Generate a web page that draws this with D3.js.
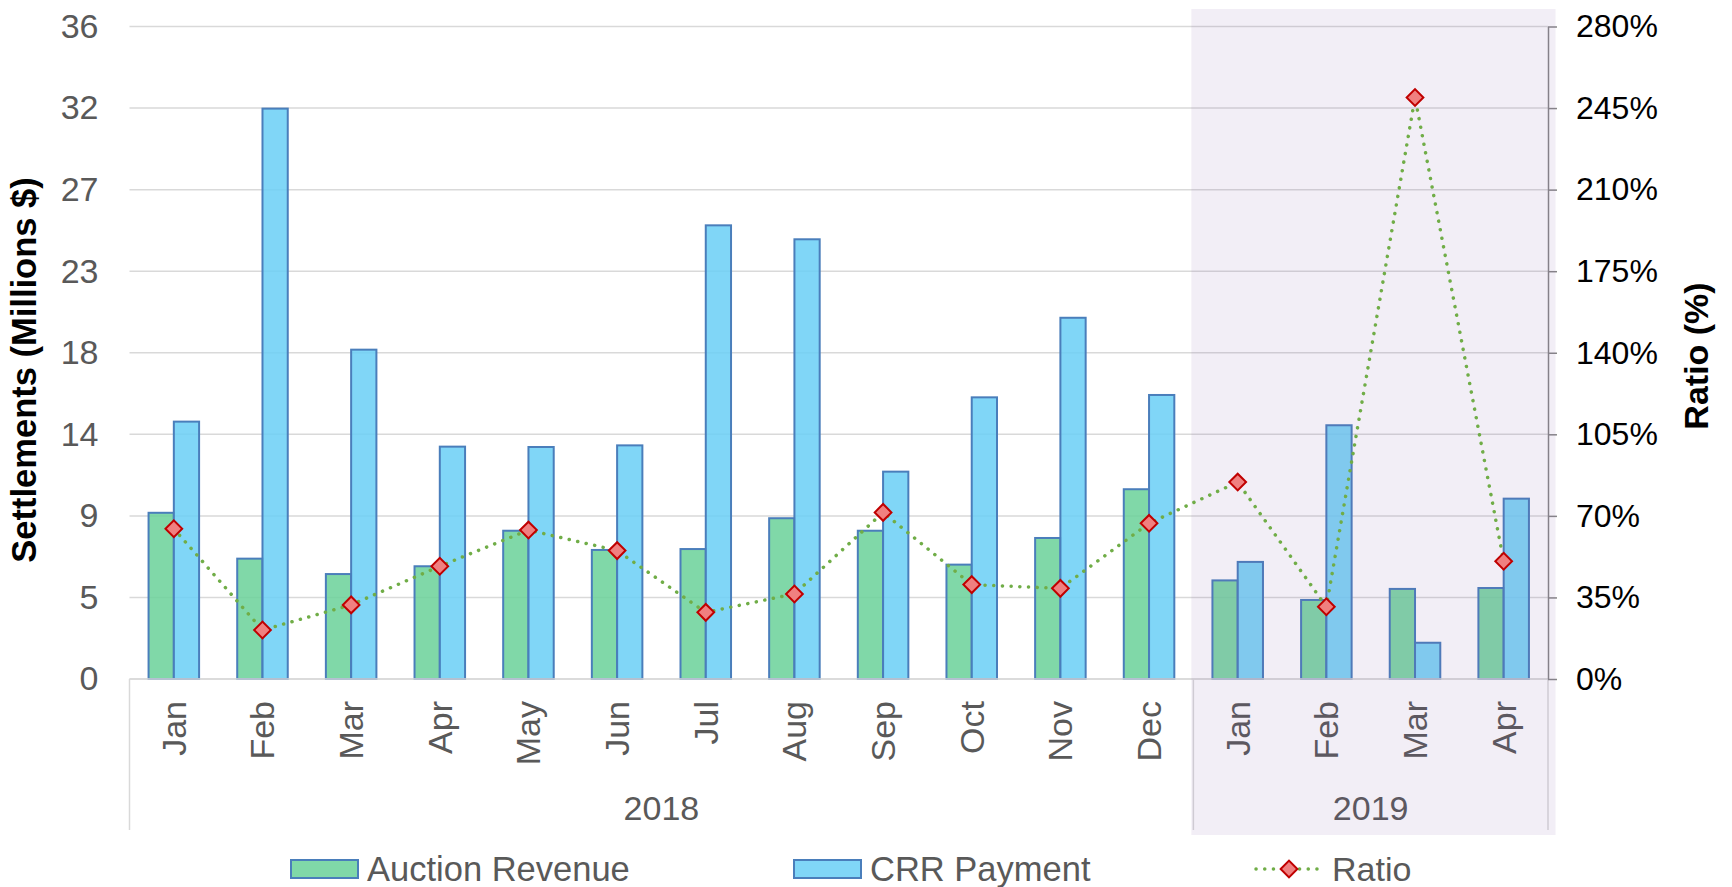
<!DOCTYPE html>
<html>
<head>
<meta charset="utf-8">
<script src="https://cdn.jsdelivr.net/npm/d3@7"></script>
<style>
  body { margin: 0; background: #fff; }
  svg { font-family: "Liberation Sans", Arial, sans-serif; }
</style>
</head>
<body>
<div id="main"></div>
<script>
// values
const months = ["Jan", "Feb", "Mar", "Apr", "May", "Jun", "Jul", "Aug", "Sep", "Oct", "Nov", "Dec", "Jan", "Feb", "Mar", "Apr"]
const years = ["2018", "2018", "2018", "2018", "2018", "2018", "2018", "2018", "2018", "2018", "2018", "2018", "2019", "2019", "2019", "2019"]
const auctionRevenue = [9.17, 6.64, 5.79, 6.22, 8.18, 7.12, 7.17, 8.87, 8.18, 6.31, 7.78, 10.47, 5.44, 4.36, 4.97, 5.02]
const crrPayment = [14.2, 31.47, 18.17, 12.82, 12.8, 12.89, 25.03, 24.26, 11.44, 15.54, 19.93, 15.67, 6.46, 14.0, 2.0, 9.95]
const ratio = [64.5, 21.0, 31.8, 48.4, 63.9, 55.1, 28.6, 36.5, 71.5, 40.5, 38.9, 66.8, 84.5, 31.0, 249.5, 50.5]

const leftTicks = [0, 4.5, 9, 13.5, 18, 22.5, 27, 31.5, 36]
const leftTickLabels = ["0", "5", "9", "14", "18", "23", "27", "32", "36"]
const rightTicks = [0, 35, 70, 105, 140, 175, 210, 245, 280]

const shadedYear = "2019"

let width = 1732,
    height = 887

const keys = months.map((m, i) => years[i] + "-" + m)
const rows = keys.map((k, i) => ({
    key: k, month: months[i], year: years[i],
    auction: auctionRevenue[i], crr: crrPayment[i], ratio: ratio[i]
}))

const plotLeft = 129.5, plotRight = 1548, plotTop = 26.5, plotBottom = 679

const x = d3.scaleBand().domain(keys).range([plotLeft, plotRight]).paddingInner(0.43).paddingOuter(0.215)
const xs = d3.scaleBand().domain(["auction", "crr"]).range([0, x.bandwidth()])
const y = d3.scaleLinear().domain([0, 36]).range([plotBottom, plotTop])
const yR = d3.scaleLinear().domain([0, 280]).range([plotBottom, plotTop])

const cx = k => x(k) + x.bandwidth() / 2

var svg = d3.select("div#main")
    .append("svg")
    .attr("width", width)
    .attr("height", height)

// gridlines
svg.append("g")
    .selectAll("line")
    .data(leftTicks)
    .join("line")
    .attr("x1", plotLeft)
    .attr("x2", plotRight)
    .attr("y1", d => y(d))
    .attr("y2", d => y(d))
    .attr("stroke", "#d9d9d9")
    .attr("stroke-width", 1.5)

// bars
const bars = svg.append("g")
bars.selectAll(".auction")
    .data(rows)
    .join("rect")
    .attr("class", "auction")
    .attr("x", d => x(d.key) + xs("auction"))
    .attr("width", xs.bandwidth())
    .attr("y", d => y(d.auction))
    .attr("height", d => y(0) - y(d.auction))
    .attr("fill", "#6ad199")
    .attr("fill-opacity", 0.85)
    .attr("stroke", "#4a7ebb")
    .attr("stroke-width", 2)

bars.selectAll(".crr")
    .data(rows)
    .join("rect")
    .attr("class", "crr")
    .attr("x", d => x(d.key) + xs("crr"))
    .attr("width", xs.bandwidth())
    .attr("y", d => y(d.crr))
    .attr("height", d => y(0) - y(d.crr))
    .attr("fill", "#6acff6")
    .attr("fill-opacity", 0.85)
    .attr("stroke", "#4a7ebb")
    .attr("stroke-width", 2)

// category axis
svg.append("line")
    .attr("x1", plotLeft).attr("x2", plotRight)
    .attr("y1", plotBottom).attr("y2", plotBottom)
    .attr("stroke", "#d9d9d9")
    .attr("stroke-width", 1.5)

svg.append("g")
    .selectAll("text")
    .data(rows)
    .join("text")
    .attr("transform", d => "translate(" + cx(d.key) + "," + 701 + ") rotate(-90)")
    .attr("dy", "0.35em")
    .attr("text-anchor", "end")
    .attr("font-size", 34)
    .attr("fill", "#595959")
    .text(d => d.month)

const yearGroups = Array.from(d3.group(rows, d => d.year), ([yr, rs]) => ({
    year: yr,
    x0: x(rs[0].key) - x.step() * x.paddingInner() / 2,
    x1: x(rs[rs.length - 1].key) + x.bandwidth() + x.step() * x.paddingInner() / 2
}))
yearGroups[0].x0 = plotLeft
yearGroups[yearGroups.length - 1].x1 = plotRight

const sepX = [plotLeft].concat(yearGroups.map(g => g.x1))
svg.append("g")
    .selectAll("line")
    .data(sepX)
    .join("line")
    .attr("x1", d => d).attr("x2", d => d)
    .attr("y1", plotBottom).attr("y2", 830)
    .attr("stroke", "#d9d9d9")
    .attr("stroke-width", 1.5)

svg.append("g")
    .selectAll("text")
    .data(yearGroups)
    .join("text")
    .attr("x", d => (d.x0 + d.x1) / 2)
    .attr("y", 820)
    .attr("text-anchor", "middle")
    .attr("font-size", 34)
    .attr("fill", "#595959")
    .text(d => d.year)

// left axis labels
svg.append("g")
    .attr("transform", "translate(" + plotLeft + ",0)")
    .call(d3.axisLeft(y).tickValues(leftTicks).tickFormat((d, i) => leftTickLabels[i]).tickSize(0).tickPadding(31))
    .call(g => g.select(".domain").remove())
    .call(g => g.selectAll("text").attr("font-size", 34).attr("fill", "#595959"))
    .attr("font-family", null)

// right axis
svg.append("g")
    .attr("transform", "translate(" + plotRight + ",0)")
    .call(d3.axisRight(yR).tickValues(rightTicks).tickFormat(d => d + "%").tickSize(9).tickSizeOuter(0).tickPadding(19))
    .call(g => g.select(".domain").attr("stroke", "#868686").attr("stroke-width", 1.5))
    .call(g => g.selectAll(".tick line").attr("stroke", "#868686").attr("stroke-width", 1.5))
    .call(g => g.selectAll("text").attr("font-size", 32).attr("fill", "#000"))
    .attr("font-family", null)

// shaded year overlay
const shade = yearGroups.find(g => g.year == shadedYear)
svg.append("rect")
    .attr("x", shade.x0 - 2)
    .attr("y", 9)
    .attr("width", plotRight + 7.5 - (shade.x0 - 2))
    .attr("height", 826)
    .attr("fill", "rgb(125,85,165)")
    .attr("fill-opacity", 0.1)

// ratio line
svg.append("path")
    .datum(rows)
    .attr("d", d3.line().x(d => cx(d.key)).y(d => yR(d.ratio)))
    .attr("fill", "none")
    .attr("stroke", "#70ad47")
    .attr("stroke-width", 3.5)
    .attr("stroke-linecap", "round")
    .attr("stroke-dasharray", "0.1 8.6")

const diamond = d3.symbol().type(d3.symbolSquare).size(140)

svg.append("g")
    .selectAll("path")
    .data(rows)
    .join("path")
    .attr("d", diamond)
    .attr("transform", d => "translate(" + cx(d.key) + "," + yR(d.ratio) + ") rotate(45)")
    .attr("fill", "#f08080")
    .attr("stroke", "#c00000")
    .attr("stroke-width", 2)

// axis titles
svg.append("text")
    .attr("transform", "translate(36,370) rotate(-90)")
    .attr("text-anchor", "middle")
    .attr("font-size", 34.5)
    .attr("font-weight", "bold")
    .attr("fill", "#000")
    .text("Settlements (Millions $)")

svg.append("text")
    .attr("transform", "translate(1708,356) rotate(-90)")
    .attr("text-anchor", "middle")
    .attr("font-size", 34)
    .attr("font-weight", "bold")
    .attr("fill", "#000")
    .text("Ratio (%)")

// legend
const legend = svg.append("g")
const legendBars = [
    { name: "Auction Revenue", fill: "#6ad199", x: 291 },
    { name: "CRR Payment", fill: "#6acff6", x: 794 }
]
legendBars.forEach(l => {
    legend.append("rect")
        .attr("x", l.x).attr("y", 860)
        .attr("width", 67).attr("height", 18)
        .attr("fill", l.fill).attr("fill-opacity", 0.85)
        .attr("stroke", "#4a7ebb").attr("stroke-width", 2)
    legend.append("text")
        .attr("x", l.x + 76).attr("y", 880.5)
        .attr("font-size", 34.5).attr("fill", "#595959")
        .text(l.name)
})
legend.append("line")
    .attr("x1", 1256).attr("x2", 1320)
    .attr("y1", 869).attr("y2", 869)
    .attr("stroke", "#70ad47")
    .attr("stroke-width", 3.5)
    .attr("stroke-linecap", "round")
    .attr("stroke-dasharray", "0.1 8.6")
legend.append("path")
    .attr("d", diamond)
    .attr("transform", "translate(1289,869) rotate(45)")
    .attr("fill", "#f08080")
    .attr("stroke", "#c00000")
    .attr("stroke-width", 2)
legend.append("text")
    .attr("x", 1332).attr("y", 880.5)
    .attr("font-size", 34).attr("fill", "#595959")
    .text("Ratio")
</script>
</body>
</html>
